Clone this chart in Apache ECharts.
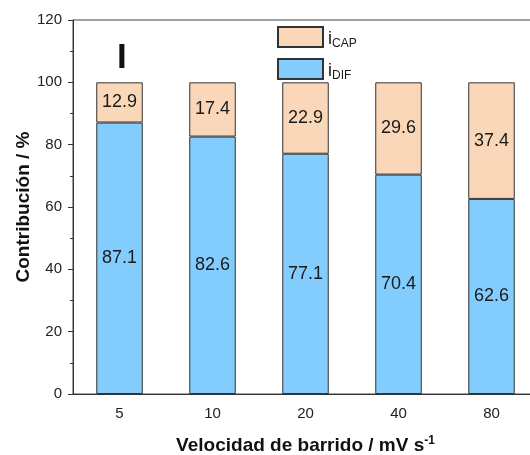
<!DOCTYPE html>
<html>
<head>
<meta charset="utf-8">
<script src="https://cdn.jsdelivr.net/npm/echarts@6/dist/echarts.min.js"></script>
<style>
  html, body { margin: 0; padding: 0; background: #fff; }
  #chart { width: 530px; height: 455px; }
</style>
</head>
<body>
<div id="chart"></div>
<script>
// Scan rates (mV/s) and current contributions (%)
const scanRates = ['5', '10', '20', '40', '80'];
const iDif = [87.1, 82.6, 77.1, 70.4, 62.6];
const iCap = [12.9, 17.4, 22.9, 29.6, 37.4];
const yTicks = { min: 0, max: 120, step: 20 };

const FONT = '"Liberation Sans", Arial, sans-serif';
const chart = echarts.init(document.getElementById('chart'));

const labelStyle = {
  show: true,
  position: 'inside',
  fontFamily: FONT,
  fontSize: 18,
  color: '#1a1a1a',
  formatter: p => p.value.toFixed(1)
};

chart.setOption({
  animation: false,
  textStyle: { fontFamily: FONT },
  grid: {
    left: 73, width: 465, top: 20, height: 374,
    outerBoundsMode: 'none',
    containLabel: false,
    show: true, borderColor: '#444', borderWidth: 1
  },
  legend: {
    orient: 'vertical',
    left: 272, top: 21,
    itemWidth: 45, itemHeight: 20, itemGap: 8,
    icon: 'rect',
    data: ['iCAP', 'iDIF'],
    selectedMode: false,
    formatter: name => '{i|i}{s|' + name.slice(1) + '}',
    textStyle: {
      padding: [6, 0, 0, 0],
      rich: {
        i: { fontSize: 18, color: '#1a1a1a', fontFamily: FONT, verticalAlign: 'top', lineHeight: 18 },
        s: { fontSize: 12, color: '#1a1a1a', fontFamily: FONT, verticalAlign: 'bottom', padding: [8, 0, 0, 0] }
      }
    }
  },
  graphic: [{
    type: 'text',
    left: 117, top: 41,
    style: { text: 'I', font: 'bold 35px ' + FONT, fill: '#111' }
  }],
  xAxis: [{
    type: 'category',
    data: scanRates,
    name: 'Velocidad de barrido / mV s{sup|-1}',
    nameLocation: 'middle',
    nameGap: 41,
    nameMoveOverlap: false,
    nameTextStyle: {
      fontFamily: FONT, fontSize: 19, fontWeight: 'bold', color: '#111',
      rich: { sup: { fontSize: 12, fontWeight: 'bold', color: '#111', fontFamily: FONT, verticalAlign: 'top', padding: [0, 0, 10, 0] } }
    },
    axisLine: { lineStyle: { color: '#333', width: 1 } },
    axisTick: { alignWithLabel: true, length: 6, lineStyle: { color: '#333' } },
    axisLabel: { fontSize: 15, color: '#222', margin: 12 }
  }, {
    // boundary ticks between categories
    type: 'category',
    data: scanRates,
    position: 'bottom',
    axisLine: { show: false },
    axisTick: { length: 3, lineStyle: { color: '#333' } },
    axisLabel: { show: false }
  }],
  yAxis: {
    type: 'value',
    min: yTicks.min, max: yTicks.max, interval: yTicks.step,
    name: 'Contribución / %',
    nameLocation: 'middle',
    nameGap: 40,
    nameMoveOverlap: false,
    nameTextStyle: { fontFamily: FONT, fontSize: 19, fontWeight: 'bold', color: '#111' },
    axisLine: { show: true, lineStyle: { color: '#333', width: 1 } },
    axisTick: { show: true, length: 5, lineStyle: { color: '#333' } },
    minorTick: { show: true, splitNumber: 2, length: 3, lineStyle: { color: '#333' } },
    splitLine: { show: false },
    axisLabel: { fontSize: 15, color: '#222', margin: 11 }
  },
  series: [{
    name: 'iDIF',
    type: 'bar',
    stack: 'total',
    barWidth: '50%',
    data: iDif,
    itemStyle: { color: '#82CDFD', borderColor: '#333', borderWidth: 1 },
    label: labelStyle
  }, {
    name: 'iCAP',
    type: 'bar',
    stack: 'total',
    barWidth: '50%',
    data: iCap,
    itemStyle: { color: '#F9D7B8', borderColor: '#333', borderWidth: 1 },
    label: labelStyle
  }]
});
</script>
</body>
</html>
